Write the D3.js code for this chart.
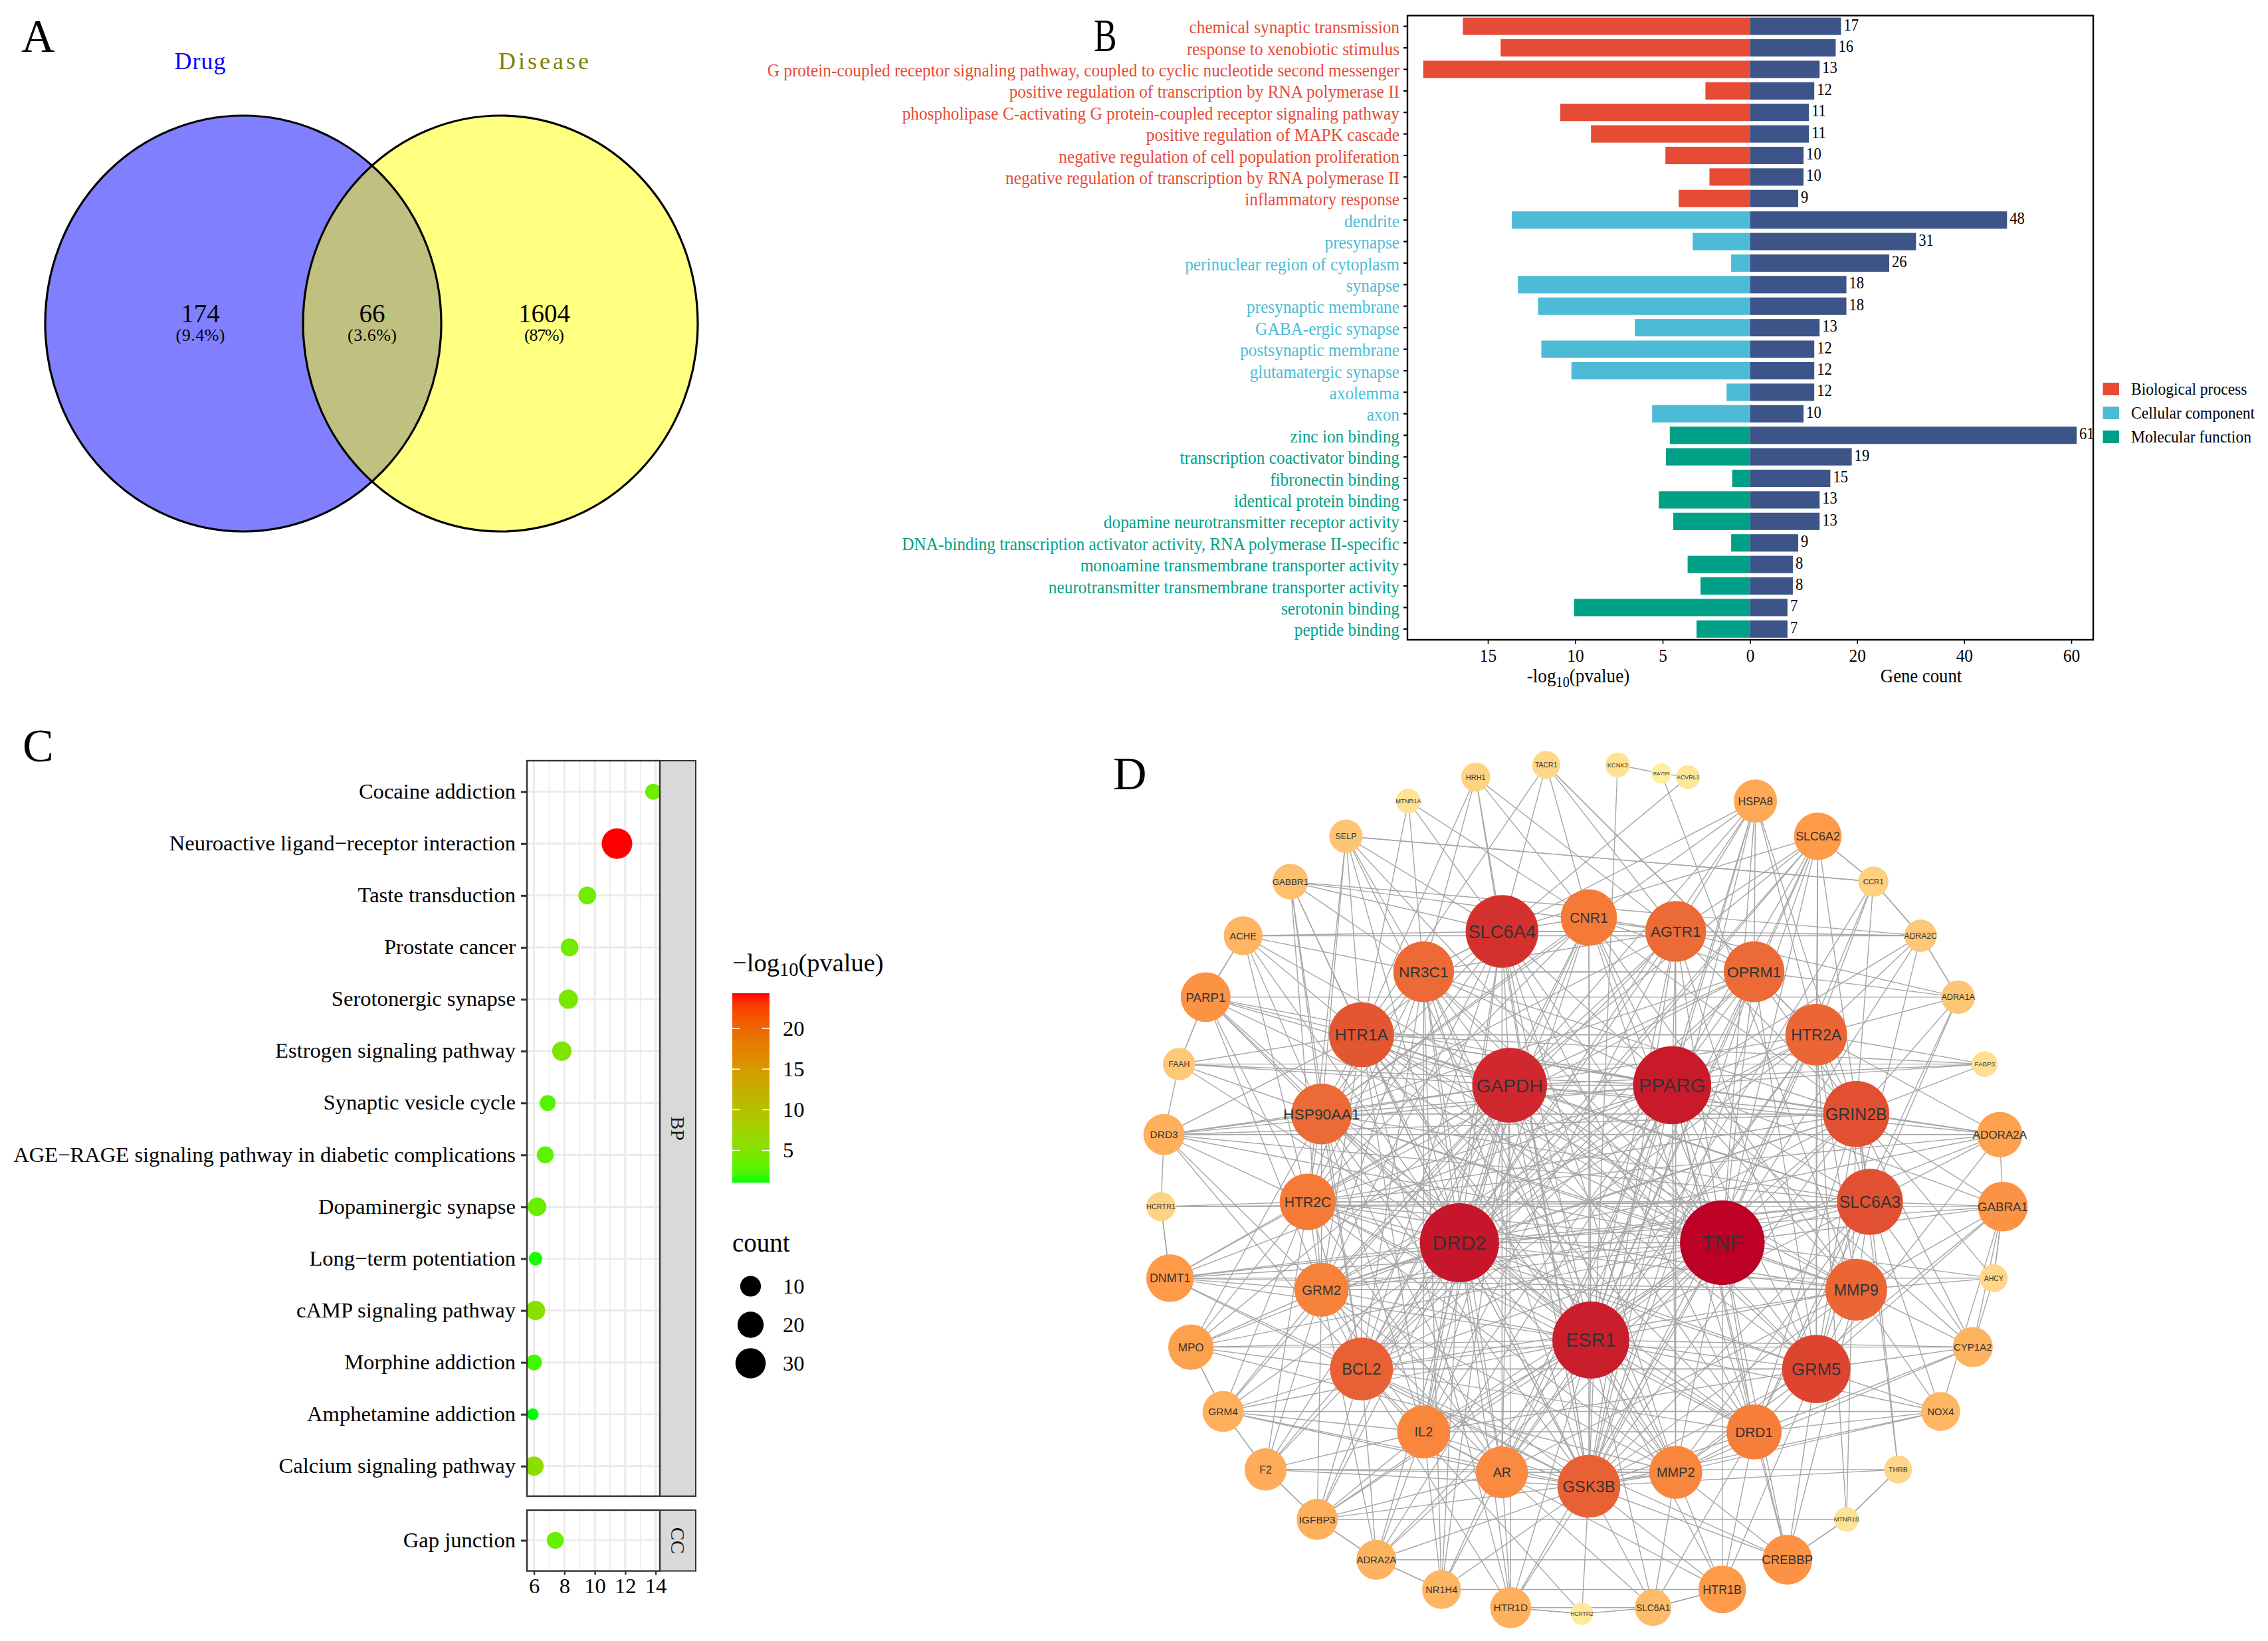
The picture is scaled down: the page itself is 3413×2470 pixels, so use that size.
<!DOCTYPE html>
<html><head><meta charset="utf-8">
<script src="https://cdn.jsdelivr.net/npm/d3@7/dist/d3.min.js"></script>
<style>html,body{margin:0;padding:0;background:#fff}svg{display:block}</style>
</head><body><svg id="c" width="3413" height="2470" xmlns="http://www.w3.org/2000/svg"></svg>
<script>
// ---------- DATA ----------
const panelLetters = ["A","B","C","D"];
const vennSets = ["Drug","Disease"];
const vennCounts = ["174","66","1604"];
const vennPercents = ["(9.4%)","(3.6%)","(87%)"];

const goTerms = ["chemical synaptic transmission","response to xenobiotic stimulus","G protein-coupled receptor signaling pathway, coupled to cyclic nucleotide second messenger","positive regulation of transcription by RNA polymerase II","phospholipase C-activating G protein-coupled receptor signaling pathway","positive regulation of MAPK cascade","negative regulation of cell population proliferation","negative regulation of transcription by RNA polymerase II","inflammatory response","dendrite","presynapse","perinuclear region of cytoplasm","synapse","presynaptic membrane","GABA-ergic synapse","postsynaptic membrane","glutamatergic synapse","axolemma","axon","zinc ion binding","transcription coactivator binding","fibronectin binding","identical protein binding","dopamine neurotransmitter receptor activity","DNA-binding transcription activator activity, RNA polymerase II-specific","monoamine transmembrane transporter activity","neurotransmitter transmembrane transporter activity","serotonin binding","peptide binding"];
const goClass = ["BP","BP","BP","BP","BP","BP","BP","BP","BP","CC","CC","CC","CC","CC","CC","CC","CC","CC","CC","MF","MF","MF","MF","MF","MF","MF","MF","MF","MF"];
const goLogP = [16.43,14.27,18.7,2.55,10.86,9.1,4.84,2.32,4.08,13.63,3.28,1.08,13.28,12.13,6.59,11.94,10.22,1.34,5.6,4.59,4.81,1.02,5.22,4.39,1.08,3.57,2.83,10.06,3.06];
const goCount = [17,16,13,12,11,11,10,10,9,48,31,26,18,18,13,12,12,12,10,61,19,15,13,13,9,8,8,7,7];
const goClassNames = ["Biological process","Cellular component","Molecular function"];
const goClassKeys = ["BP","CC","MF"];
const goColors = ["#E64B35","#4DBBD5","#00A087"];
const goTicksLeft = [15,10,5,0];
const goTicksRight = [0,20,40,60];

const keggBP = ["Cocaine addiction","Neuroactive ligand\u2212receptor interaction","Taste transduction","Prostate cancer","Serotonergic synapse","Estrogen signaling pathway","Synaptic vesicle cycle","AGE\u2212RAGE signaling pathway in diabetic complications","Dopaminergic synapse","Long\u2212term potentiation","cAMP signaling pathway","Morphine addiction","Amphetamine addiction","Calcium signaling pathway"];
const keggBPx = [13.84,11.46,9.5,8.34,8.26,7.83,6.9,6.74,6.2,6.1,6.1,6.0,5.92,6.0];
const keggBPcount = [4,31,6,6,8,8,4,5,7,2,8,4,1,8];
const keggBPp = [4,24.3,4,4,4.5,5,2.5,3,3.5,1.2,5.5,2,1.05,6];
const keggCC = ["Gap junction"];
const keggCCx = [7.4];
const keggCCcount = [5];
const keggCCp = [3.3];
const keggTicks = [6,8,10,12,14];
const keggMinor = [7,9,11,13];
const pLegendTicks = [5,10,15,20];
const countLegend = [10,20,30];

const outerRing = ["KCNK3","ACVRL1","HSPA8","SLC6A2","CCR1","ADRA2C","ADRA1A","FABP3","ADORA2A","GABRA1","AHCY","CYP1A2","NOX4","THRB","MTNR1B","CREBBP","HTR1B","SLC6A1","HCRTR2","HTR1D","NR1H4","ADRA2A","IGFBP3","F2","GRM4","MPO","DNMT1","HCRTR1","DRD3","FAAH","PARP1","ACHE","GABBR1","SELP","MTNR1A","HRH1","TACR1"];
const outerDegree = [5,4,22,26,10,12,13,6,24,28,8,19,18,8,5,28,26,16,3,20,18,19,20,21,20,24,26,9,20,12,28,18,15,13,5,9,8];
const middleRing = ["CNR1","AGTR1","OPRM1","HTR2A","GRIN2B","SLC6A3","MMP9","GRM5","DRD1","MMP2","GSK3B","AR","IL2","BCL2","GRM2","HTR2C","HSP90AA1","HTR1A","NR3C1","SLC6A4"];
const middleDegree = [34,38,38,39,43,43,39,45,33,31,40,30,31,40,32,34,38,42,38,49];
const innerRing = ["PPARG","TNF","ESR1","DRD2","GAPDH"];
const innerDegree = [54,60,53,55,51];
const extraNode = ["RA75R"];
const extraDegree = [1];
// adjacency: node index -> connected node indices (outer 0-36, middle 37-56, inner 57-61, extra 62)
const adjacency = [
[62,47],[62,56],[38,39,57,58,40,59,61,41,60,53,47,55],[56,38,39,40,57,58,61,44,59,42,4,47,60,50],[3,5,33,40,41,58,59],
[38,6,4,40,57,58,44,32,31],[5,38,39,40,41,42,45,30],[40,57,61,41,54],[41,42,40,61,57,58,60,9,44,52],[42,58,43,44,10,11,12,41,60,46,57],
[43,9,41,58,11,26],[44,42,43,41,59,45,46,57,25],[44,42,43,45,46,59,47,24],[14,41,47,42,23],[13,15,41,40,22],
[14,45,44,46,43,58,57,50,47,21],[17,45,46,44,58,47,59,49,20],[16,48,46,45,59,60,19],[19,17,47,50],[18,48,47,50,59,60,58,54,61],
[21,48,47,49,55,60,61,57],[20,22,49,47,59,58,51,50,57,61],[21,23,48,49,50,59,60,58,51,61,46],[22,24,49,48,50,51,52,47,60,61],[23,25,51,50,52,49,48,60,59,47,61],
[24,50,51,52,59,60,58,53,46,61],[27,51,52,50,47,60,58,42,43,59,61,57],[26,52,28,42,9],[29,53,52,54,57,58,61,41,50,51,8,42],[30,54,53,61,60,57,7],
[29,31,54,53,61,60,52,58,57,51,59],[30,55,54,53,52,61,56,60],[55,54,56,53,38,50,51,60],[4,54,53,55,52,56,60,58,59],[37,55,54,56],
[56,38,37,54,55,47],[54,56,37,39,38,40],
[56,38,47,58,57,61,60,39,59,43,50,52,45,53,49,41],[56,39,57,61,58,41,59,60,46,55,53,47,51,49,44],[40,55,57,61,58,60,41,44,59,52,50,47,48,53],[54,57,61,58,42,41,44,59,60,43,50,47,51,48],
[53,57,61,58,42,44,60,59,52,45,50,51,47,54,55],[52,58,57,60,61,43,59,44,46,45,47,53,54,51],[51,58,57,60,61,59,44,47,48,50,52,53,54],[50,58,57,60,61,59,47,45,49,46,52,54,55],[49,58,57,59,61,46,60,47,53,50,52,54,56],
[48,47,58,59,57,61,60,54,52,51,55,56],[48,59,58,57,60,61,50,51,49,56,55,54,53],[49,59,60,61,57,58,53,56,46,55,51,52],[50,59,60,61,57,58,51,55,45,53,54,56],[51,60,61,59,57,58,52,54,44,53,55,56],
[52,60,58,61,57,59,54,53,43,55,56],[53,60,58,61,57,54,59,55,42,56],[54,61,57,60,58,59,55,56,41],[55,61,57,60,58,59,56,40],[56,61,57,60,58,59,39],[61,57,60,58,59,38],
[58,59,60,61],[59,60,61],[60,61],[61],[],[43]
];

// ---------- SETUP ----------
const svg = d3.select("#c");
const SERIF = "'Liberation Serif','Times New Roman',serif";
const SANS = "'Liberation Sans',Arial,sans-serif";
const root = svg.append("g").attr("font-family", SERIF);
const defs = svg.append("defs");

// panel letters
const letterPos = [[32,78],[1646,77],[34,1146],[1675,1188]];
const letterSqueeze = [1,.74,1,1];
root.selectAll("text.letter").data(panelLetters).join("text").attr("class","letter")
  .attr("transform",(d,i)=>`translate(${letterPos[i][0]},${letterPos[i][1]}) scale(${letterSqueeze[i]},1)`)
  .attr("font-size",70).attr("fill","#000").text(d=>d);

// ---------- PANEL A ----------
(function(){
  const g = root.append("g");
  const e = [{cx:366,cy:487,rx:298,ry:313,f:"#8080ff"},{cx:753,cy:487,rx:297,ry:313,f:"#ffff80"}];
  g.selectAll("ellipse.f").data(e).join("ellipse").attr("class","f")
    .attr("cx",d=>d.cx).attr("cy",d=>d.cy).attr("rx",d=>d.rx).attr("ry",d=>d.ry).attr("fill",d=>d.f);
  defs.append("clipPath").attr("id","vennClip").append("ellipse")
    .attr("cx",e[0].cx).attr("cy",e[0].cy).attr("rx",e[0].rx).attr("ry",e[0].ry);
  g.append("ellipse").attr("cx",e[1].cx).attr("cy",e[1].cy).attr("rx",e[1].rx).attr("ry",e[1].ry)
    .attr("fill","#c0c080").attr("clip-path","url(#vennClip)");
  g.selectAll("ellipse.s").data(e).join("ellipse").attr("class","s")
    .attr("cx",d=>d.cx).attr("cy",d=>d.cy).attr("rx",d=>d.rx).attr("ry",d=>d.ry)
    .attr("fill","none").attr("stroke","#000").attr("stroke-width",3.2);
  const setX=[301,818], setW=[77,136], setC=["#0000ff","#808000"];
  g.selectAll("text.set").data(vennSets).join("text").attr("class","set")
    .attr("x",(d,i)=>setX[i]).attr("y",104).attr("text-anchor","middle").attr("font-size",36)
    .attr("fill",(d,i)=>setC[i]).attr("textLength",(d,i)=>setW[i]).attr("lengthAdjust","spacing").text(d=>d);
  const numX=[301.5,560,819], pctW=[74,74,60];
  g.selectAll("text.num").data(vennCounts).join("text").attr("class","num")
    .attr("x",(d,i)=>numX[i]).attr("y",485).attr("text-anchor","middle").attr("font-size",39).attr("fill","#000").text(d=>d);
  g.selectAll("text.pct").data(vennPercents).join("text").attr("class","pct")
    .attr("x",(d,i)=>numX[i]).attr("y",513).attr("text-anchor","middle").attr("font-size",26).attr("fill","#000")
    .attr("textLength",(d,i)=>pctW[i]).attr("lengthAdjust","spacing").text(d=>d);
})();

// ---------- PANEL B ----------
(function(){
  const g = root.append("g");
  const L=2118,R=3150,T=23.4,B=963,Z=2633.5;
  const fs=28;
  // horizontal condensation calibrated from the longest label
  const probe=g.append("text").attr("font-size",fs).text(goTerms[2]);
  const k=952/probe.node().getComputedTextLength(); probe.remove();
  const y=d3.scaleBand().domain(goTerms).range([T,B]).paddingInner(.194).paddingOuter(.097);
  const xL=d3.scaleLinear().domain([0,20]).range([Z,Z-526]);
  const xR=d3.scaleLinear().domain([0,60]).range([Z,Z+483.5]);
  const col=d3.scaleOrdinal().domain(goClassKeys).range(goColors);
  g.selectAll("rect.lp").data(goTerms).join("rect").attr("class","lp")
    .attr("x",(d,i)=>xL(goLogP[i])).attr("y",d=>y(d)).attr("width",(d,i)=>xL(0)-xL(goLogP[i])).attr("height",y.bandwidth())
    .attr("fill",(d,i)=>col(goClass[i]));
  g.selectAll("rect.cnt").data(goTerms).join("rect").attr("class","cnt")
    .attr("x",xR(0)).attr("y",d=>y(d)).attr("width",(d,i)=>xR(goCount[i])-xR(0)).attr("height",y.bandwidth())
    .attr("fill","#3C5488");
  g.append("rect").attr("x",L).attr("y",T).attr("width",R-L).attr("height",B-T).attr("fill","none").attr("stroke","#000").attr("stroke-width",2.4);
  g.selectAll("text.val").data(goTerms).join("text").attr("class","val")
    .attr("transform",(d,i)=>`translate(${xR(goCount[i])+4},${y(d)+y.bandwidth()/2+6}) scale(${k},1)`)
    .attr("font-size",fs-3).attr("fill","#000").text((d,i)=>goCount[i]);
  const ay=g.append("g").attr("transform",`translate(${L},0)`).call(d3.axisLeft(y).tickSize(6).tickPadding(6));
  ay.select(".domain").remove();
  ay.selectAll("line").attr("stroke","#000").attr("stroke-width",2.2);
  ay.selectAll("text").attr("font-family",SERIF).attr("font-size",fs).attr("x",-12/k).attr("dy",".38em")
    .attr("transform",`scale(${k},1)`).attr("fill",(d,i)=>col(goClass[i]));
  [[xL,goTicksLeft],[xR,goTicksRight.slice(1)]].forEach(([sc,t])=>{
    const a=g.append("g").attr("transform",`translate(0,${B})`).call(d3.axisBottom(sc).tickValues(t).tickFormat(d3.format("d")).tickSize(6).tickPadding(7));
    a.select(".domain").remove();
    a.selectAll("line").attr("stroke","#000").attr("stroke-width",1.6);
    a.selectAll("text").attr("font-family",SERIF).attr("font-size",fs).attr("fill","#000").attr("transform",`scale(${k},1)`);
  });
  const tl=g.append("text").attr("transform",`translate(2375,1027) scale(${k},1)`).attr("text-anchor","middle").attr("font-size",fs+2).attr("fill","#000");
  tl.append("tspan").text("-log");
  tl.append("tspan").attr("font-size",fs*.8).attr("dy",7).text("10");
  tl.append("tspan").attr("dy",-7).text("(pvalue)");
  g.append("text").attr("transform",`translate(2891,1027) scale(${k},1)`).attr("text-anchor","middle").attr("font-size",fs+1.5).attr("fill","#000").text("Gene count");
  const ly=d3.scalePoint().domain(goClassNames).range([585.5,657.5]);
  g.selectAll("rect.lg").data(goClassNames).join("rect").attr("class","lg")
    .attr("x",3164.5).attr("y",d=>ly(d)-9.5).attr("width",24.5).attr("height",19).attr("fill",(d,i)=>goColors[i]);
  g.selectAll("text.lg").data(goClassNames).join("text").attr("class","lg")
    .attr("transform",d=>`translate(3207,${ly(d)+8}) scale(${k},1)`).attr("font-size",fs-2).attr("fill","#000").text(d=>d);
})();

// ---------- PANEL C ----------
(function(){
  const g = root.append("g");
  const L=793,R=993,S=1047,BT=1145,BB=2252,CT=2273,CB=2364.6;
  const x=d3.scaleLinear().domain([6,14]).range([803.6,986.6]);
  const yB=d3.scalePoint().domain(keggBP).range([1191.7,2206.8]);
  const yC=d3.scalePoint().domain(keggCC).range([2318.5,2318.5]);
  const color=d3.scaleLinear().domain([1.05,24.3]).range(["#00ff00","#ff0000"]).interpolate(d3.interpolateLab);
  const rad=c=>5.8+3.1*Math.sqrt(c);
  const panels=[
    {id:"pBP",t:BT,b:BB,y:yB,names:keggBP,xs:keggBPx,cs:keggBPcount,ps:keggBPp,strip:"BP"},
    {id:"pCC",t:CT,b:CB,y:yC,names:keggCC,xs:keggCCx,cs:keggCCcount,ps:keggCCp,strip:"CC"}];
  panels.forEach(p=>{
    defs.append("clipPath").attr("id",p.id).append("rect").attr("x",L).attr("y",p.t).attr("width",R-L).attr("height",p.b-p.t);
    const pg=g.append("g").attr("clip-path",`url(#${p.id})`);
    pg.selectAll("line.min").data(keggMinor).join("line").attr("class","min")
      .attr("x1",d=>x(d)).attr("x2",d=>x(d)).attr("y1",p.t).attr("y2",p.b).attr("stroke","#ebebeb").attr("stroke-width",1.6);
    pg.selectAll("line.maj").data(keggTicks).join("line").attr("class","maj")
      .attr("x1",d=>x(d)).attr("x2",d=>x(d)).attr("y1",p.t).attr("y2",p.b).attr("stroke","#ebebeb").attr("stroke-width",3);
    pg.selectAll("line.h").data(p.names).join("line").attr("class","h")
      .attr("x1",L).attr("x2",R).attr("y1",d=>p.y(d)).attr("y2",d=>p.y(d)).attr("stroke","#ebebeb").attr("stroke-width",3);
    pg.selectAll("circle").data(p.names).join("circle")
      .attr("cx",(d,i)=>x(p.xs[i])).attr("cy",d=>p.y(d)).attr("r",(d,i)=>rad(p.cs[i])).attr("fill",(d,i)=>color(p.ps[i]));
    g.append("rect").attr("x",R).attr("y",p.t).attr("width",S-R).attr("height",p.b-p.t).attr("fill","#d9d9d9").attr("stroke","#333").attr("stroke-width",2);
    g.append("rect").attr("x",L).attr("y",p.t).attr("width",R-L).attr("height",p.b-p.t).attr("fill","none").attr("stroke","#333").attr("stroke-width",2.4);
    g.append("text").attr("transform",`translate(${(R+S)/2},${(p.t+p.b)/2}) rotate(90)`).attr("text-anchor","middle").attr("dy",".33em")
      .attr("font-size",30).attr("fill","#1a1a1a").text(p.strip);
    const a=g.append("g").attr("transform",`translate(${L},0)`).call(d3.axisLeft(p.y).tickSize(9).tickPadding(8));
    a.select(".domain").remove();
    a.selectAll("line").attr("stroke","#333").attr("stroke-width",3);
    a.selectAll("text").attr("font-family",SERIF).attr("font-size",32.6).attr("fill","#000").attr("dy",".3em");
  });
  const ax=g.append("g").attr("transform",`translate(0,${CB})`).call(d3.axisBottom(x).tickValues(keggTicks).tickFormat(d3.format("d")).tickSize(6).tickPadding(4));
  ax.select(".domain").remove();
  ax.selectAll("line").attr("stroke","#333").attr("stroke-width",2.4);
  ax.selectAll("text").attr("font-family",SERIF).attr("font-size",32.6).attr("fill","#000");
  // colour legend
  const lt=g.append("text").attr("x",1102).attr("y",1462).attr("font-size",38.5).attr("fill","#000");
  lt.append("tspan").text("\u2212log");
  lt.append("tspan").attr("font-size",28.5).attr("dy",7).text("10");
  lt.append("tspan").attr("dy",-7).text("(pvalue)");
  const grad=defs.append("linearGradient").attr("id","pg").attr("x1",0).attr("y1",1).attr("x2",0).attr("y2",0);
  d3.range(0,1.0001,.05).forEach(t=>grad.append("stop").attr("offset",t).attr("stop-color",color(1.05+t*(24.3-1.05))));
  const bar=d3.scaleLinear().domain([5,20]).range([1731.6,1548]);
  g.append("rect").attr("x",1102).attr("y",1495).attr("width",56).attr("height",285).attr("fill","url(#pg)");
  g.selectAll("line.tl").data(pLegendTicks).join("line").attr("class","tl").attr("x1",1102).attr("x2",1113).attr("y1",d=>bar(d)).attr("y2",d=>bar(d)).attr("stroke","#fff").attr("stroke-width",1.6);
  g.selectAll("line.tr").data(pLegendTicks).join("line").attr("class","tr").attr("x1",1147).attr("x2",1158).attr("y1",d=>bar(d)).attr("y2",d=>bar(d)).attr("stroke","#fff").attr("stroke-width",1.6);
  g.selectAll("text.tk").data(pLegendTicks).join("text").attr("class","tk").attr("x",1178).attr("y",d=>bar(d)).attr("dy",".33em").attr("font-size",32.6).attr("fill","#000").text(d=>d);
  // size legend
  g.append("text").attr("x",1102).attr("y",1884).attr("font-size",39).attr("fill","#000").text("count");
  const cy=d3.scalePoint().domain(countLegend).range([1936,2052]);
  g.selectAll("circle.cl").data(countLegend).join("circle").attr("class","cl").attr("cx",1129.5).attr("cy",d=>cy(d)).attr("r",rad).attr("fill","#000");
  g.selectAll("text.cl").data(countLegend).join("text").attr("class","cl").attr("x",1178).attr("y",d=>cy(d)).attr("dy",".33em").attr("font-size",32.6).attr("fill","#000").text(d=>d);
})();

// ---------- PANEL D ----------
(function(){
  const g = root.append("g").attr("font-family",SANS);
  const rad=d3.scaleLinear().domain([0,60]).range([14.5,63.7]);
  const color=d3.scaleLinear().domain([1,5,12,20,26,34,39,43,45,49,53,60])
    .range(["#fff0a0","#ffe395","#fec878","#feb05c","#fe9a48","#f57a37","#ea6635","#e15131","#dd4530","#d4312e","#cb1e2d","#bc0026"]);
  const rings=[
    {names:outerRing,deg:outerDegree,cx:2380.5,cy:1789,rx:634,ry:640,start:360/37/2,step:360/37},
    {names:middleRing,deg:middleDegree,cx:2391,cy:1809,rx:423,ry:428,start:0,step:18},
    {names:innerRing,deg:innerDegree,cx:2394,cy:1805,rx:208,ry:212,start:36,step:72},
    {names:extraNode,deg:extraDegree,cx:2381,cy:1789,rx:636,ry:636,start:10.8,step:0}];
  const nodes=[];
  rings.forEach(rg=>{
    const ang=d3.scaleLinear().domain([0,1]).range([rg.start,rg.start+rg.step]);
    rg.names.forEach((n,i)=>{
      const a=ang(i)*Math.PI/180;
      nodes.push({name:n,deg:rg.deg[i],x:rg.cx+rg.rx*Math.sin(a),y:rg.cy-rg.ry*Math.cos(a)});
    });
  });
  const links=[];
  adjacency.forEach((ts,s)=>ts.forEach(t=>links.push({s:nodes[s],t:nodes[t]})));
  g.append("g").selectAll("line").data(links).join("line")
    .attr("x1",d=>d.s.x).attr("y1",d=>d.s.y).attr("x2",d=>d.t.x).attr("y2",d=>d.t.y)
    .attr("stroke","#a6a6a6").attr("stroke-width",1.4);
  const sorted=nodes.slice().sort((a,b)=>a.deg-b.deg);
  g.append("g").selectAll("circle").data(sorted).join("circle")
    .attr("cx",d=>d.x).attr("cy",d=>d.y).attr("r",d=>rad(d.deg)).attr("fill",d=>color(d.deg));
  g.append("g").selectAll("text").data(sorted).join("text")
    .attr("x",d=>d.x).attr("y",d=>d.y).attr("dy",".36em").attr("text-anchor","middle")
    .attr("font-size",d=>rad(d.deg)*.5).attr("fill","#333").text(d=>d.name);
})();
</script></body></html>
